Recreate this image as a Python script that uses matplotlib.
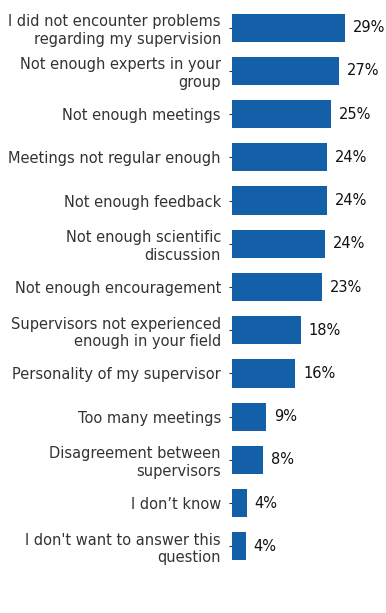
import matplotlib
matplotlib.use("Agg")
import matplotlib.pyplot as plt

categories = [
    "I did not encounter problems\nregarding my supervision",
    "Not enough experts in your\ngroup",
    "Not enough meetings",
    "Meetings not regular enough",
    "Not enough feedback",
    "Not enough scientific\ndiscussion",
    "Not enough encouragement",
    "Supervisors not experienced\nenough in your field",
    "Personality of my supervisor",
    "Too many meetings",
    "Disagreement between\nsupervisors",
    "I don\u2019t know",
    "I don't want to answer this\nquestion",
]
values = [29.0, 27.4, 25.4, 24.4, 24.4, 23.8, 23.1, 17.7, 16.2, 8.7, 7.9, 3.8, 3.5]
labels = ["29%", "27%", "25%", "24%", "24%", "24%", "23%", "18%", "16%", "9%", "8%", "4%", "4%"]

fig = plt.figure(figsize=(3.86, 6.13), dpi=100)
W, H = 386, 613
ax = fig.add_axes([232 / W, 1 - 568 / H, 146 / W, (568 - 6) / H])

ypos = list(range(len(categories)))
ax.barh(ypos, values, height=0.65, color="#1360a8")
ax.set_ylim(len(categories) - 0.5, -0.5)
ax.set_xlim(0, 37.4)
ax.set_yticks(ypos)
ax.set_yticklabels(categories, fontsize=10.5, color="#333333")
ax.tick_params(axis="y", length=2, width=0.8, pad=6, color="#333333")
ax.set_xticks([])
for s in ax.spines.values():
    s.set_visible(False)

for y, v, t in zip(ypos, values, labels):
    ax.text(v + 2.0, y, t, va="center", ha="left", fontsize=10.5, color="#111111")

fig.savefig("out.png", dpi=100)
